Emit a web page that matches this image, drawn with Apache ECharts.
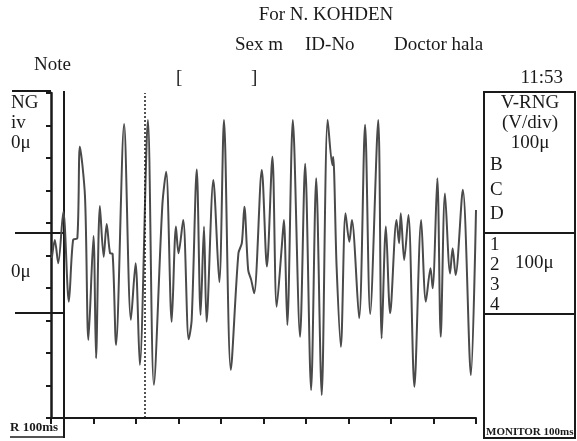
<!DOCTYPE html>
<html>
<head>
<meta charset="utf-8">
<style>
  html, body { margin: 0; padding: 0; background: #fff; }
  #chart { width: 577px; height: 441px; }
</style>
<script src="https://cdn.jsdelivr.net/npm/echarts@6/dist/echarts.min.js"></script>
</head>
<body>
<div id="chart"></div>
<script>
// trace: time in ms, amplitude in uV (100 uV / div)
var timeMs = [2, 9, 17, 29, 42, 52, 62, 68, 80, 88, 100, 106, 115, 124, 131, 139, 145, 153, 172, 188,
  199, 209, 228, 242, 262, 271, 284, 294, 300, 311, 324, 331, 343, 352, 360, 366, 382, 396, 407, 423,
  441, 449, 455, 464, 471, 478, 496, 508, 521, 531, 543, 548, 556, 569, 586, 598, 612, 624, 637, 651,
  662, 664, 672, 682, 693, 702, 708, 725, 739, 751, 770, 778, 788, 798, 813, 819, 823, 831, 841, 855,
  871, 882, 893, 898, 909, 917, 927, 939, 945, 952, 969, 988, 1000]
var amplitude = [-8, 48, -24, 135, -142, 48, 53, 335, 181, -260, 60, -316, 152, -4, 97, 7, 5, -275, 405, -198,
  -24, -337, 417, -398, 155, 258, -204, 89, 7, 109, -258, -198, 265, -183, 89, -204, 232, -82, 417, -352,
  7, 38, 150, -45, -75, -116, 263, -34, 304, -158, 27, 109, -214, 417, -250, 282, -414, 238, -429, 418,
  278, 303, -34, -281, 130, 42, 109, -193, 402, -180, 417, -255, 89, -178, 109, 38, 130, -14, 125, -404,
  109, -142, -39, -101, 238, -250, 191, -55, 22, -60, 202, -368, 140]
var cursorMs = 221

var serif = '"Liberation Serif", "Times New Roman", serif'
var ink = '#1a1a1a'

function txt(str, x, y, size, opts) {
  opts = opts || {}
  return {
    type: 'text', x: x, y: y, silent: true,
    style: {
      text: str,
      font: (opts.bold ? 'bold ' : '') + size + 'px ' + serif,
      fill: ink,
      textAlign: opts.align || 'left',
      textVerticalAlign: 'middle'
    }
  }
}
function ln(x1, y1, x2, y2, w) {
  return {
    type: 'line', silent: true,
    shape: { x1: x1, y1: y1, x2: x2, y2: y2 },
    style: { stroke: ink, lineWidth: w || 2 }
  }
}

var chart = echarts.init(document.getElementById('chart'))
chart.setOption({
  animation: false,
  backgroundColor: '#fff',
  grid: { left: 51, top: 93, width: 425, height: 325, containLabel: false },
  xAxis: {
    type: 'value', min: 0, max: 1000, interval: 100,
    axisLine: { onZero: false, lineStyle: { color: ink, width: 2 } },
    axisTick: { show: true, inside: false, length: 6, lineStyle: { color: ink, width: 2 } },
    axisLabel: { show: false },
    splitLine: { show: false }
  },
  yAxis: {
    type: 'value', min: -500, max: 500, interval: 100,
    axisLine: { show: true, onZero: false, lineStyle: { color: ink, width: 2.5 } },
    axisTick: { show: true, inside: false, length: 5, lineStyle: { color: ink, width: 2 } },
    axisLabel: { show: false },
    splitLine: { show: false }
  },
  series: [{
    type: 'line',
    data: timeMs.map(function (t, i) { return [t, amplitude[i]] }),
    smooth: 0.3,
    showSymbol: false,
    lineStyle: { color: '#4a4a4a', width: 2 },
    markLine: {
      silent: true, symbol: 'none',
      label: { show: false },
      lineStyle: { color: ink, type: [2, 2], width: 1.5 },
      data: [{ xAxis: cursorMs }]
    }
  }],
  graphic: [
    // header
    txt('For N. KOHDEN', 326, 15, 19, { align: 'center' }),
    txt('Sex m', 235, 45, 19),
    txt('ID-No', 305, 45, 19),
    txt('Doctor hala', 394, 45, 19),
    txt('Note', 34, 65, 19),
    txt('[', 176, 78, 19),
    txt(']', 251, 78, 19),
    txt('11:53', 563, 78, 19, { align: 'right' }),
    // left panel
    ln(12, 91, 51, 91),
    ln(64, 91, 64, 438),
    ln(15, 233, 64, 233),
    ln(15, 313, 64, 313),
    txt('NG', 11, 103, 19),
    txt('iv', 11, 123, 19),
    txt('0\u03bc', 11, 143, 19),
    txt('0\u03bc', 11, 272, 19),
    txt('R 100ms', 10, 428, 13, { bold: true }),
    ln(10, 437, 64, 437, 1.5),
    // right panel
    {
      type: 'rect', silent: true,
      shape: { x: 484, y: 92, width: 91, height: 346 },
      style: { fill: 'none', stroke: ink, lineWidth: 2 }
    },
    ln(484, 233, 575, 233),
    ln(484, 314, 575, 314),
    txt('V-RNG', 530, 103, 19, { align: 'center' }),
    txt('(V/div)', 530, 123, 19, { align: 'center' }),
    txt('100\u03bc', 530, 143, 19, { align: 'center' }),
    txt('B', 490, 165, 19),
    txt('C', 490, 190, 19),
    txt('D', 490, 214, 19),
    txt('1', 490, 245, 19),
    txt('2', 490, 265, 19),
    txt('100\u03bc', 515, 263, 19),
    txt('3', 490, 285, 19),
    txt('4', 490, 305, 19),
    txt('MONITOR 100ms', 486, 432, 11, { bold: true })
  ]
})
</script>
</body>
</html>
